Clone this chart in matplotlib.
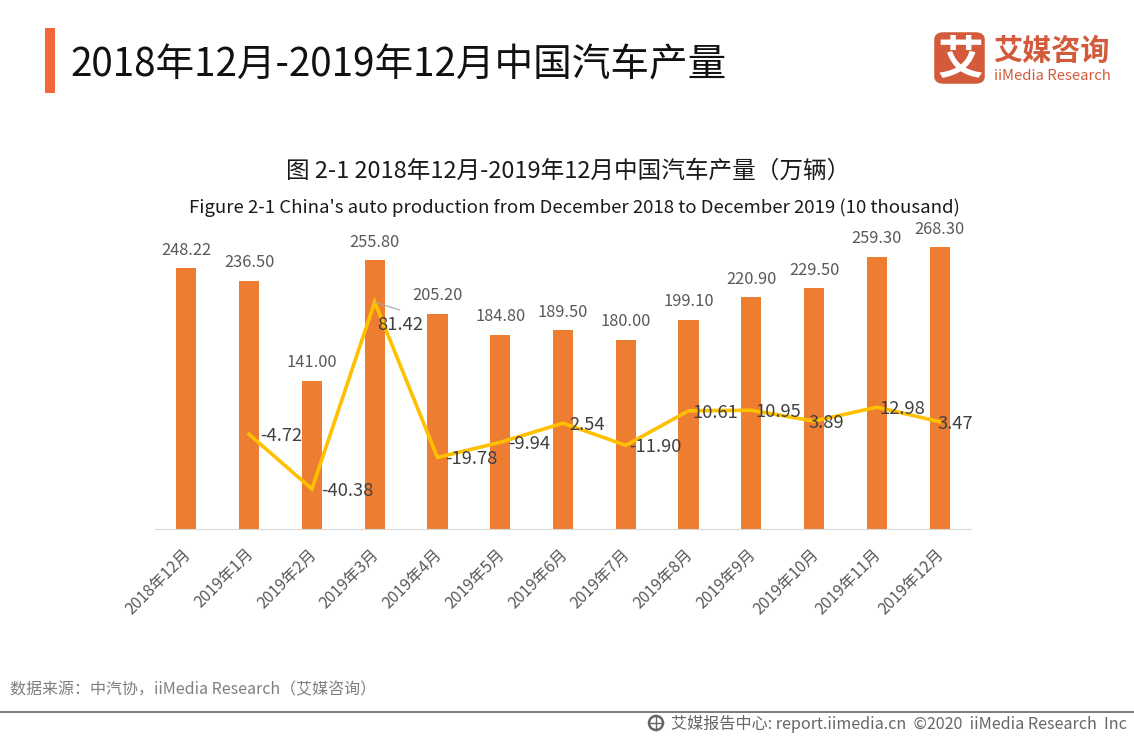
import matplotlib
matplotlib.use("Agg")
import matplotlib.pyplot as plt
from matplotlib.patches import Rectangle, FancyBboxPatch, Ellipse
from matplotlib.lines import Line2D
from matplotlib.transforms import ScaledTranslation

plt.rcParams['font.family'] = ['Noto Sans CJK SC', 'DejaVu Sans']

months = ["2018年12月", "2019年1月", "2019年2月", "2019年3月", "2019年4月", "2019年5月", "2019年6月",
          "2019年7月", "2019年8月", "2019年9月", "2019年10月", "2019年11月", "2019年12月"]
production = [248.22, 236.50, 141.00, 255.80, 205.20, 184.80, 189.50, 180.00, 199.10, 220.90, 229.50, 259.30, 268.30]
growth = [None, -4.72, -40.38, 81.42, -19.78, -9.94, 2.54, -11.90, 10.61, 10.95, 3.89, 12.98, 3.47]
growth_offsets = [None, (32, -2), (35, -2), (25, -23), (34, -2), (29, -2), (24, -2), (30, -2), (27, -2), (27, -2), (12, -2), (25, -2), (16, -2)]

W, H = 1134, 737
fig = plt.figure(figsize=(W / 100, H / 100), dpi=100, facecolor="white")

def px_axes(x0, y0, x1, y1):
    return fig.add_axes([x0 / W, 1 - y1 / H, (x1 - x0) / W, (y1 - y0) / H])

def t(x, y, s, size, color="#404040", ha="center", **kw):
    return fig.text(x / W, 1 - y / H, s, fontsize=size, color=color, ha=ha, va="center", **kw)

def px_to_pt(p):
    return p * 72 / 100

ax = px_axes(155, 214, 971, 529)
xs = list(range(len(months)))
ax.bar(xs, production, width=0.32, color="#ED7D31", zorder=2)
ax.set_xlim(-0.5, 12.5)
ax.set_ylim(0, 300)
ax.set_yticks([])
ax.set_xticks(xs)
ax.set_xticklabels(months, rotation=45, ha="right", rotation_mode="anchor", fontsize=11.5, color="#595959")
ax.tick_params(axis="x", length=0, pad=12)
for lab in ax.get_xticklabels():
    lab.set_transform(lab.get_transform() + ScaledTranslation(-4 / 100, 0, fig.dpi_scale_trans))
for s in ("top", "right", "left"):
    ax.spines[s].set_visible(False)
ax.spines["bottom"].set_color("#D9D9D9")
ax.spines["bottom"].set_linewidth(0.8)
ax.patch.set_alpha(0)
for x, v in zip(xs, production):
    ax.annotate(f"{v:.2f}", (x, v), xytext=(0, px_to_pt(18)), textcoords="offset points",
                ha="center", va="center", fontsize=11.8, color="#595959", zorder=5)

ax2 = ax.twinx()
ax2.set_ylim(-66.4, 138.8)
ax2.set_yticks([])
for s in ax2.spines.values():
    s.set_visible(False)
lx = [x for x, g in zip(xs, growth) if g is not None]
ly = [g for g in growth if g is not None]
ax2.plot(lx, ly, color="#FFC000", lw=2.6, solid_joinstyle="miter", zorder=3)
for x, g, off in zip(xs, growth, growth_offsets):
    if g is None:
        continue
    ax2.annotate(f"{g:.2f}", (x, g), xytext=(px_to_pt(off[0]), px_to_pt(off[1])), textcoords="offset points",
                 ha="center", va="center", fontsize=13.2, color="#404040", zorder=5)
ax2.annotate("", (3, 81.42), xytext=(px_to_pt(25), px_to_pt(-8)), textcoords="offset points",
             arrowprops=dict(arrowstyle="-", color="#A6A6A6", lw=0.8, shrinkA=0, shrinkB=0))

# Header
fig.add_artist(Rectangle((45 / W, 1 - 93 / H), 10 / W, 65 / H, transform=fig.transFigure, color="#F2663A", lw=0))
t(70, 66, "2018年12月-2019年12月中国汽车产量", 27.8, color="#111111", ha="left")
t(568, 171, "图 2-1 2018年12月-2019年12月中国汽车产量（万辆）", 17.0, color="#1a1a1a")
t(574, 208, "Figure 2-1 China's auto production from December 2018 to December 2019 (10 thousand)", 13.4, color="#1a1a1a")

# Logo
logo = FancyBboxPatch((937 / W, 1 - 81 / H), 45 / W, 46 / H, boxstyle="round,pad=0,rounding_size=0.006",
                      transform=fig.transFigure, facecolor="#D35B3C", edgecolor="#D35B3C", lw=4)
fig.add_artist(logo)
t(960, 60, "艾", 33, color="white", fontweight="bold")
t(993, 51, "艾媒咨询", 21, color="#D35B3C", ha="left", fontweight="bold")
t(994, 76, "iiMedia Research", 10.7, color="#D35B3C", ha="left", fontweight="medium")

# Footer
t(10, 690, "数据来源：中汽协，iiMedia Research（艾媒咨询）", 11.5, color="#7F7F7F", ha="left")
fig.add_artist(Rectangle((0, 1 - 713 / H), 1, 2 / H, transform=fig.transFigure, color="#7F7F7F", lw=0))
fig.add_artist(Ellipse((656 / W, 1 - 723 / H), 14 / W, 14 / H, transform=fig.transFigure, facecolor="white",
                       edgecolor="#666666", lw=1.8))
fig.add_artist(Line2D([649 / W, 663 / W], [1 - 723 / H] * 2, transform=fig.transFigure, color="#666666", lw=1))
fig.add_artist(Line2D([656 / W] * 2, [1 - 716 / H, 1 - 730 / H], transform=fig.transFigure, color="#666666", lw=1))
t(671, 724, "艾媒报告中心: report.iimedia.cn  ©2020  iiMedia Research  Inc", 11.6, color="#666666", ha="left", fontweight="medium")

fig.savefig("out.png", dpi=100)
